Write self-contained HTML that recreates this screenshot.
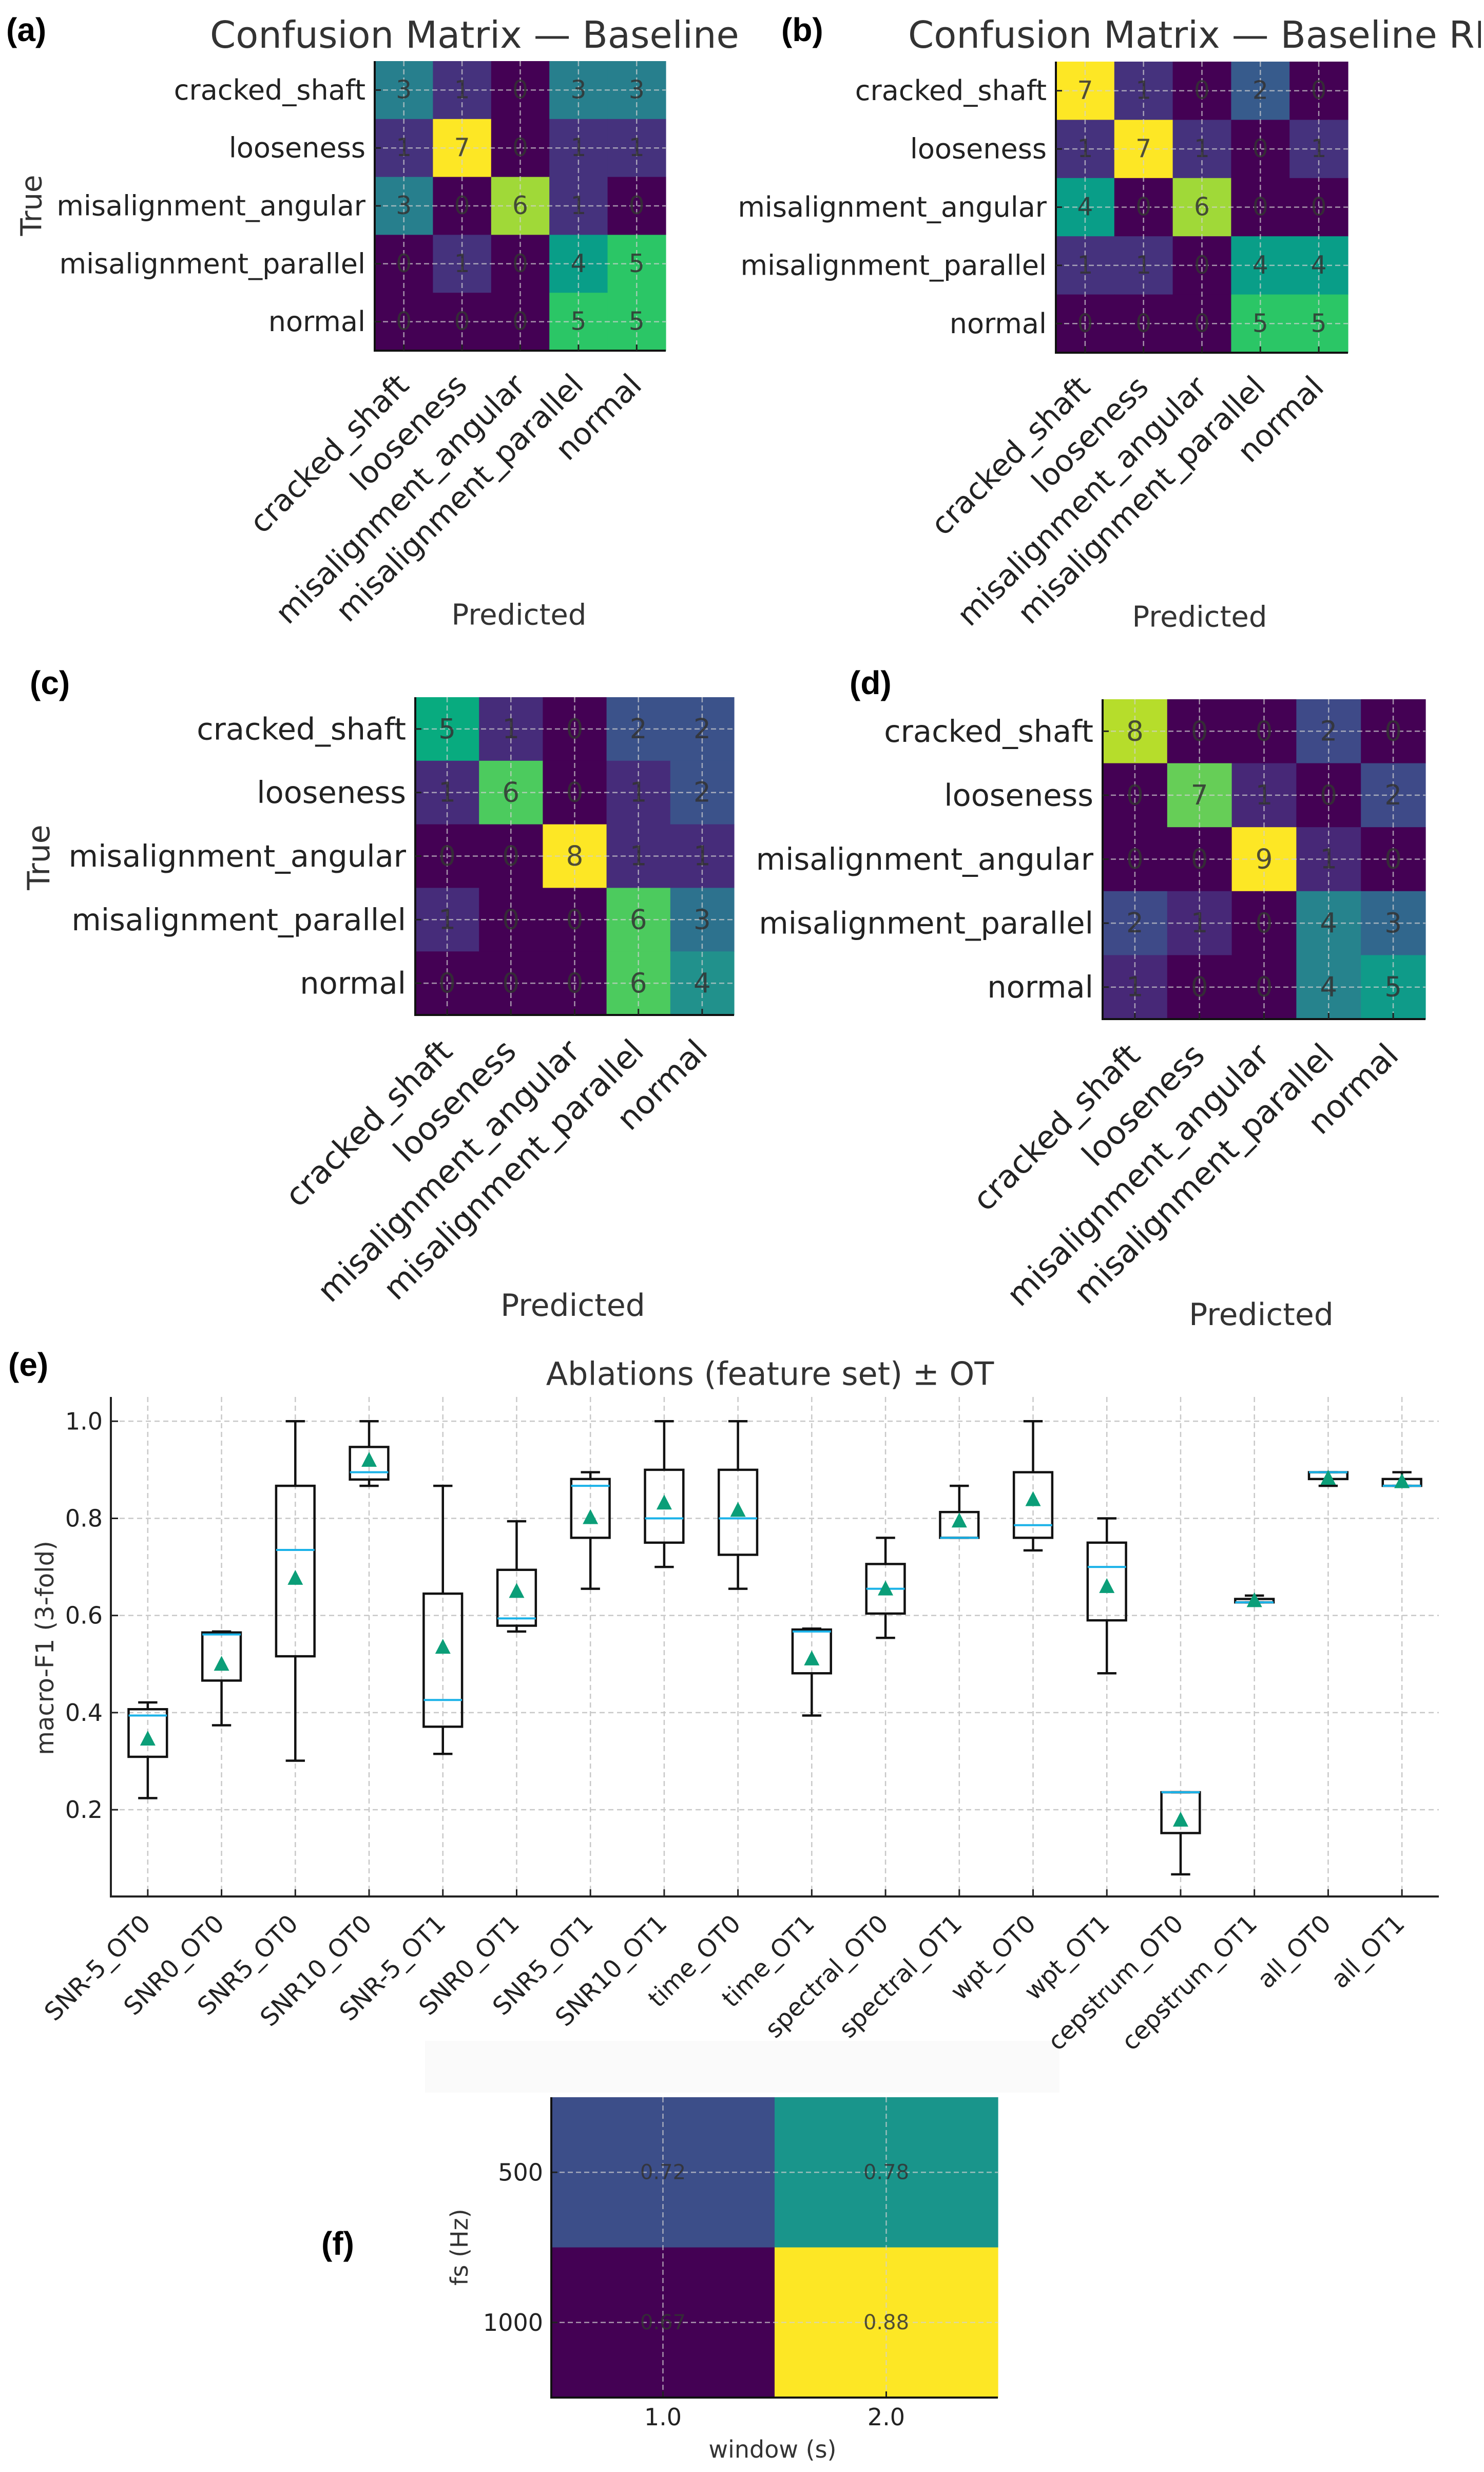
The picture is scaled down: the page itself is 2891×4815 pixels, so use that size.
<!DOCTYPE html>
<html><head><meta charset="utf-8"><style>
html,body{margin:0;padding:0;background:#fff;}
svg{display:block;font-family:"DejaVu Sans","Liberation Sans",sans-serif;}
</style></head><body>
<svg id="fig" width="2891" height="4815" viewBox="0 0 2891 4815" xmlns="http://www.w3.org/2000/svg">
<defs>
<clipPath id="clipA"><rect x="0" y="0" width="1440" height="1300"/></clipPath>
<clipPath id="clipB"><rect x="1445" y="0" width="1440" height="1300"/></clipPath>
</defs>
<rect x="828" y="3975" width="1236" height="101" fill="#fafafa"/>
<g id="root"></g>
</svg>
<script>
// ---------- data ----------
const classes = ["cracked_shaft","looseness","misalignment_angular","misalignment_parallel","normal"];
const cmA = [[3,1,0,3,3],[1,7,0,1,1],[3,0,6,1,0],[0,1,0,4,5],[0,0,0,5,5]];
const cmB = [[7,1,0,2,0],[1,7,1,0,1],[4,0,6,0,0],[1,1,0,4,4],[0,0,0,5,5]];
const cmC = [[5,1,0,2,2],[1,6,0,1,2],[0,0,8,1,1],[1,0,0,6,3],[0,0,0,6,4]];
const cmD = [[8,0,0,2,0],[0,7,1,0,2],[0,0,9,1,0],[2,1,0,4,3],[1,0,0,4,5]];

const ablCats = ["SNR-5_OT0","SNR0_OT0","SNR5_OT0","SNR10_OT0","SNR-5_OT1","SNR0_OT1","SNR5_OT1","SNR10_OT1","time_OT0","time_OT1","spectral_OT0","spectral_OT1","wpt_OT0","wpt_OT1","cepstrum_OT0","cepstrum_OT1","all_OT0","all_OT1"];
const whiskLo = [0.224,0.374,0.301,0.867,0.315,0.567,0.655,0.70,0.655,0.394,0.554,0.76,0.734,0.481,0.067,0.627,0.867,0.867];
const q1Vals  = [0.309,0.466,0.516,0.880,0.371,0.579,0.760,0.75,0.725,0.481,0.604,0.76,0.76,0.59,0.152,0.627,0.881,0.867];
const medVals = [0.394,0.561,0.735,0.895,0.426,0.594,0.867,0.80,0.80,0.567,0.655,0.76,0.786,0.70,0.236,0.627,0.895,0.867];
const q3Vals  = [0.407,0.565,0.867,0.947,0.645,0.694,0.881,0.90,0.90,0.571,0.706,0.813,0.895,0.75,0.236,0.634,0.895,0.881];
const whiskHi = [0.421,0.567,1.0,1.0,0.867,0.794,0.895,1.0,1.0,0.573,0.76,0.867,1.0,0.80,0.236,0.641,0.895,0.895];
const meanVals= [0.346,0.50,0.677,0.92,0.535,0.65,0.802,0.832,0.817,0.511,0.655,0.795,0.839,0.66,0.179,0.631,0.883,0.876];
const yTicksE = [0.2,0.4,0.6,0.8,1.0];
const yTickLabelsE = ["0.2","0.4","0.6","0.8","1.0"];

const fsLabels = ["500","1000"];
const winLabels = ["1.0","2.0"];
const gridVals = [[0.72,0.78],[0.67,0.88]];

// ---------- helpers ----------
const NS="http://www.w3.org/2000/svg";
const root=document.getElementById('root');
function mk(tag,attrs,parent,txt){const e=document.createElementNS(NS,tag);for(const k in attrs)e.setAttribute(k,attrs[k]);if(txt!==undefined)e.textContent=txt;(parent||root).appendChild(e);return e;}
const VIR=["#440154","#482475","#414487","#355f8d","#2a788e","#21918c","#00a386","#1ec46a","#7ad151","#bddf26","#fde725"];
function hex(h){return [parseInt(h.substr(1,2),16),parseInt(h.substr(3,2),16),parseInt(h.substr(5,2),16)];}
function viridis(t){t=Math.max(0,Math.min(1,t));const p=t*10,i=Math.min(9,Math.floor(p)),f=p-i;const a=hex(VIR[i]),b=hex(VIR[i+1]);return "rgb("+a.map((v,k)=>Math.round(v+(b[k]-v)*f)).join(",")+")";}

function confMatrix(id,cm,box,fs,xfs){
  const g=mk('g',{});
  
  
  const n=cm.length,cw=(box.x1-box.x0)/n,ch=(box.y1-box.y0)/n;
  let mx=0,mn=Infinity;cm.forEach(r=>r.forEach(v=>{mx=Math.max(mx,v);mn=Math.min(mn,v);}));
  const cx=j=>box.x0+(j+0.5)*cw, cy=i=>box.y0+(i+0.5)*ch;
  for(let i=0;i<n;i++)for(let j=0;j<n;j++){
    const r=mk('rect',{x:box.x0+j*cw,y:box.y0+i*ch,width:cw+0.6,height:ch+0.6,fill:viridis((cm[i][j]-mn)/(mx-mn))},g);
    
    
  }
  for(let k=0;k<n;k++){
    mk('line',{x1:box.x0,x2:box.x1,y1:cy(k),y2:cy(k),stroke:'#d0d0d0','stroke-opacity':0.7,'stroke-width':2.5,'stroke-dasharray':'10,6'},g);
    mk('line',{y1:box.y0,y2:box.y1,x1:cx(k),x2:cx(k),stroke:'#d0d0d0','stroke-opacity':0.7,'stroke-width':2.5,'stroke-dasharray':'10,6'},g);
  }
  for(let i=0;i<n;i++)for(let j=0;j<n;j++){
    const t=mk('text',{x:cx(j),y:cy(i),'font-size':fs*0.9,'text-anchor':'middle','dominant-baseline':'central',fill:'#333','fill-opacity':0.85},g,String(cm[i][j]));
    
    
  }
  mk('line',{x1:box.x0,x2:box.x0,y1:box.y0,y2:box.y1+2,stroke:'#111','stroke-width':4},g);
  mk('line',{x1:box.x0-2,x2:box.x1,y1:box.y1,y2:box.y1,stroke:'#111','stroke-width':4},g);
  for(let k=0;k<n;k++){
    mk('line',{x1:box.x0,x2:box.x0+12,y1:cy(k),y2:cy(k),stroke:'#222','stroke-width':3},g);
    mk('line',{x1:cx(k),x2:cx(k),y1:box.y1,y2:box.y1-12,stroke:'#222','stroke-width':3},g);
    const yl=mk('text',{x:box.x0-18,y:cy(k),'font-size':fs,'text-anchor':'end','dominant-baseline':'central',fill:'#222'},g,classes[k]);
    
    
    const xl=mk('text',{transform:'translate('+(cx(k)+xfs*0.22)+','+(box.y1+xfs*1.2)+') rotate(-45)','font-size':xfs,'text-anchor':'end',fill:'#222'},g,classes[k]);
    
    
  }
  return g;
}
function label(txt,x,y,name,size){const t=mk('text',{x:x,y:y,'font-size':size||64,'font-weight':'bold','font-family':'"Liberation Sans",sans-serif',fill:'#000'},root,txt);}
function txt(s,x,y,size,name,extra){const a=Object.assign({x:x,y:y,'font-size':size,'text-anchor':'middle','dominant-baseline':'central',fill:'#333'},extra||{});const t=mk('text',a,root,s);return t;}

// ---------- panels a-d ----------
label('(a)',12,80,'panel-label-a');
txt('Confusion Matrix — Baseline',409,68,72,'title-a',{'text-anchor':'start','clip-path':'url(#clipA)'});
confMatrix('confusion-matrix-a',cmA,{x0:730,x1:1297,y0:119,y1:683},54,59);
txt('True',62,400,56,'y-axis-title-a',{transform:'rotate(-90 62 400)'});
txt('Predicted',1011,1198,56,'x-axis-title-a');

label('(b)',1522,80,'panel-label-b');
txt('Confusion Matrix — Baseline RF',1769,68,72,'title-b',{'text-anchor':'start','clip-path':'url(#clipB)'});
confMatrix('confusion-matrix-b',cmB,{x0:2057,x1:2626,y0:120,y1:687},54,59);
txt('Predicted',2337,1202,56,'x-axis-title-b');

label('(c)',58,1352,'panel-label-c');
confMatrix('confusion-matrix-c',cmC,{x0:809,x1:1430,y0:1358,y1:1977},59,62);
txt('True',76,1670,60,'y-axis-title-c',{transform:'rotate(-90 76 1670)'});
txt('Predicted',1116,2543,60,'x-axis-title-c');

label('(d)',1655,1352,'panel-label-d');
confMatrix('confusion-matrix-d',cmD,{x0:2148,x1:2777,y0:1362,y1:1985},59,62);
txt('Predicted',2457,2561,60,'x-axis-title-d');

// ---------- panel e ----------
label('(e)',16,2680,'panel-label-e');
txt('Ablations (feature set) ± OT',1500,2676,62,'title-e');
(function(){
  const L=216,R=2803,T=2721,B=3694;
  const yMin=0.0214,yMax=1.05;
  const ys=v=>B-(v-yMin)/(yMax-yMin)*(B-T);
  const bw=(R-L)/ablCats.length;
  const xs=i=>L+(i+0.5)*bw;
  const g=mk('g',{});
  
  
  yTicksE.forEach((v,k)=>{
    mk('line',{x1:L,x2:R,y1:ys(v),y2:ys(v),stroke:'#c8c8c8','stroke-width':2.5,'stroke-dasharray':'10,7'},g);
    mk('line',{x1:L,x2:L+14,y1:ys(v),y2:ys(v),stroke:'#222','stroke-width':3},g);
    const t=mk('text',{x:L-16,y:ys(v),'font-size':46,'text-anchor':'end','dominant-baseline':'central',fill:'#222'},g,yTickLabelsE[k]);
    
    
  });
  ablCats.forEach((c,i)=>{
    const x=xs(i);
    mk('line',{x1:x,x2:x,y1:T,y2:B,stroke:'#c8c8c8','stroke-width':2.5,'stroke-dasharray':'10,7'},g);
    mk('line',{x1:x,x2:x,y1:B,y2:B-14,stroke:'#222','stroke-width':3},g);
    const t=mk('text',{transform:'translate('+(x+8)+','+(B+56)+') rotate(-45)','font-size':48,'text-anchor':'end',fill:'#222'},g,c);
    
    
  });
  ablCats.forEach((c,i)=>{
    const x=xs(i),hw=bw*0.26,cw=bw*0.13;
    const bg=mk('g',{},g);
    
    
    const st={stroke:'#111','stroke-width':4.5,fill:'none'};
    mk('line',Object.assign({x1:x,x2:x,y1:ys(whiskLo[i]),y2:ys(q1Vals[i])},st),bg);
    mk('line',Object.assign({x1:x,x2:x,y1:ys(q3Vals[i]),y2:ys(whiskHi[i])},st),bg);
    mk('line',Object.assign({x1:x-cw,x2:x+cw,y1:ys(whiskLo[i]),y2:ys(whiskLo[i])},st),bg);
    mk('line',Object.assign({x1:x-cw,x2:x+cw,y1:ys(whiskHi[i]),y2:ys(whiskHi[i])},st),bg);
    mk('rect',Object.assign({x:x-hw,y:ys(q3Vals[i]),width:2*hw,height:Math.max(0.5,ys(q1Vals[i])-ys(q3Vals[i]))},st),bg);
    mk('line',{x1:x-hw,x2:x+hw,y1:ys(medVals[i]),y2:ys(medVals[i]),stroke:'#1ab2e8','stroke-width':4},bg);
    const my=ys(meanVals[i]);
    const m=mk('polygon',{points:(x-15)+','+(my+13)+' '+(x+15)+','+(my+13)+' '+x+','+(my-16),fill:'#0b9e78'},bg);
    
    
  });
  mk('line',{x1:L,x2:L,y1:T,y2:B+2,stroke:'#222','stroke-width':4},g);
  mk('line',{x1:L-2,x2:R,y1:B,y2:B,stroke:'#222','stroke-width':4},g);
  txt('macro-F1 (3-fold)',88,3210,48,'y-axis-title-e',{transform:'rotate(-90 88 3210)'});
})();

// ---------- panel f ----------
(function(){
  label('(f)',626,4392,'panel-label-f');
  const L=1074,R=1944,T=4085,B=4670;
  const nr=gridVals.length,nc=gridVals[0].length;
  const cw=(R-L)/nc,ch=(B-T)/nr;
  let mx=-Infinity,mn=Infinity;gridVals.forEach(r=>r.forEach(v=>{mx=Math.max(mx,v);mn=Math.min(mn,v);}));
  const g=mk('g',{});
  
  
  for(let i=0;i<nr;i++)for(let j=0;j<nc;j++){
    const r=mk('rect',{x:L+j*cw,y:T+i*ch,width:cw+0.6,height:ch+0.6,fill:viridis((gridVals[i][j]-mn)/(mx-mn))},g);
    
    
  }
  for(let k=0;k<nr;k++){const y=T+(k+0.5)*ch;
    mk('line',{x1:L,x2:R,y1:y,y2:y,stroke:'#d0d0d0','stroke-opacity':0.7,'stroke-width':2.5,'stroke-dasharray':'10,6'},g);
    mk('line',{x1:L,x2:L+12,y1:y,y2:y,stroke:'#222','stroke-width':3},g);
    const t=mk('text',{x:L-16,y:y,'font-size':46,'text-anchor':'end','dominant-baseline':'central',fill:'#222'},g,fsLabels[k]);
    
    
  }
  for(let k=0;k<nc;k++){const x=L+(k+0.5)*cw;
    mk('line',{x1:x,x2:x,y1:T,y2:B,stroke:'#d0d0d0','stroke-opacity':0.7,'stroke-width':2.5,'stroke-dasharray':'10,6'},g);
    mk('line',{x1:x,x2:x,y1:B,y2:B-12,stroke:'#222','stroke-width':3},g);
    const t=mk('text',{x:x,y:B+38,'font-size':46,'text-anchor':'middle','dominant-baseline':'central',fill:'#222'},g,winLabels[k]);
    
    
  }
  for(let i=0;i<nr;i++)for(let j=0;j<nc;j++){
    const t=mk('text',{x:L+(j+0.5)*cw,y:T+(i+0.5)*ch,'font-size':40,'text-anchor':'middle','dominant-baseline':'central',fill:'#333','fill-opacity':0.85},g,gridVals[i][j].toFixed(2));
    
    
  }
  mk('line',{x1:L,x2:L,y1:T,y2:B+2,stroke:'#111','stroke-width':4},g);
  mk('line',{x1:L-2,x2:R,y1:B,y2:B,stroke:'#111','stroke-width':4},g);
  txt('fs (Hz)',895,4377,46,'y-axis-title-f',{transform:'rotate(-90 895 4377)'});
  txt('window (s)',1505,4771,46,'x-axis-title-f');
})();
</script>
</body></html>
